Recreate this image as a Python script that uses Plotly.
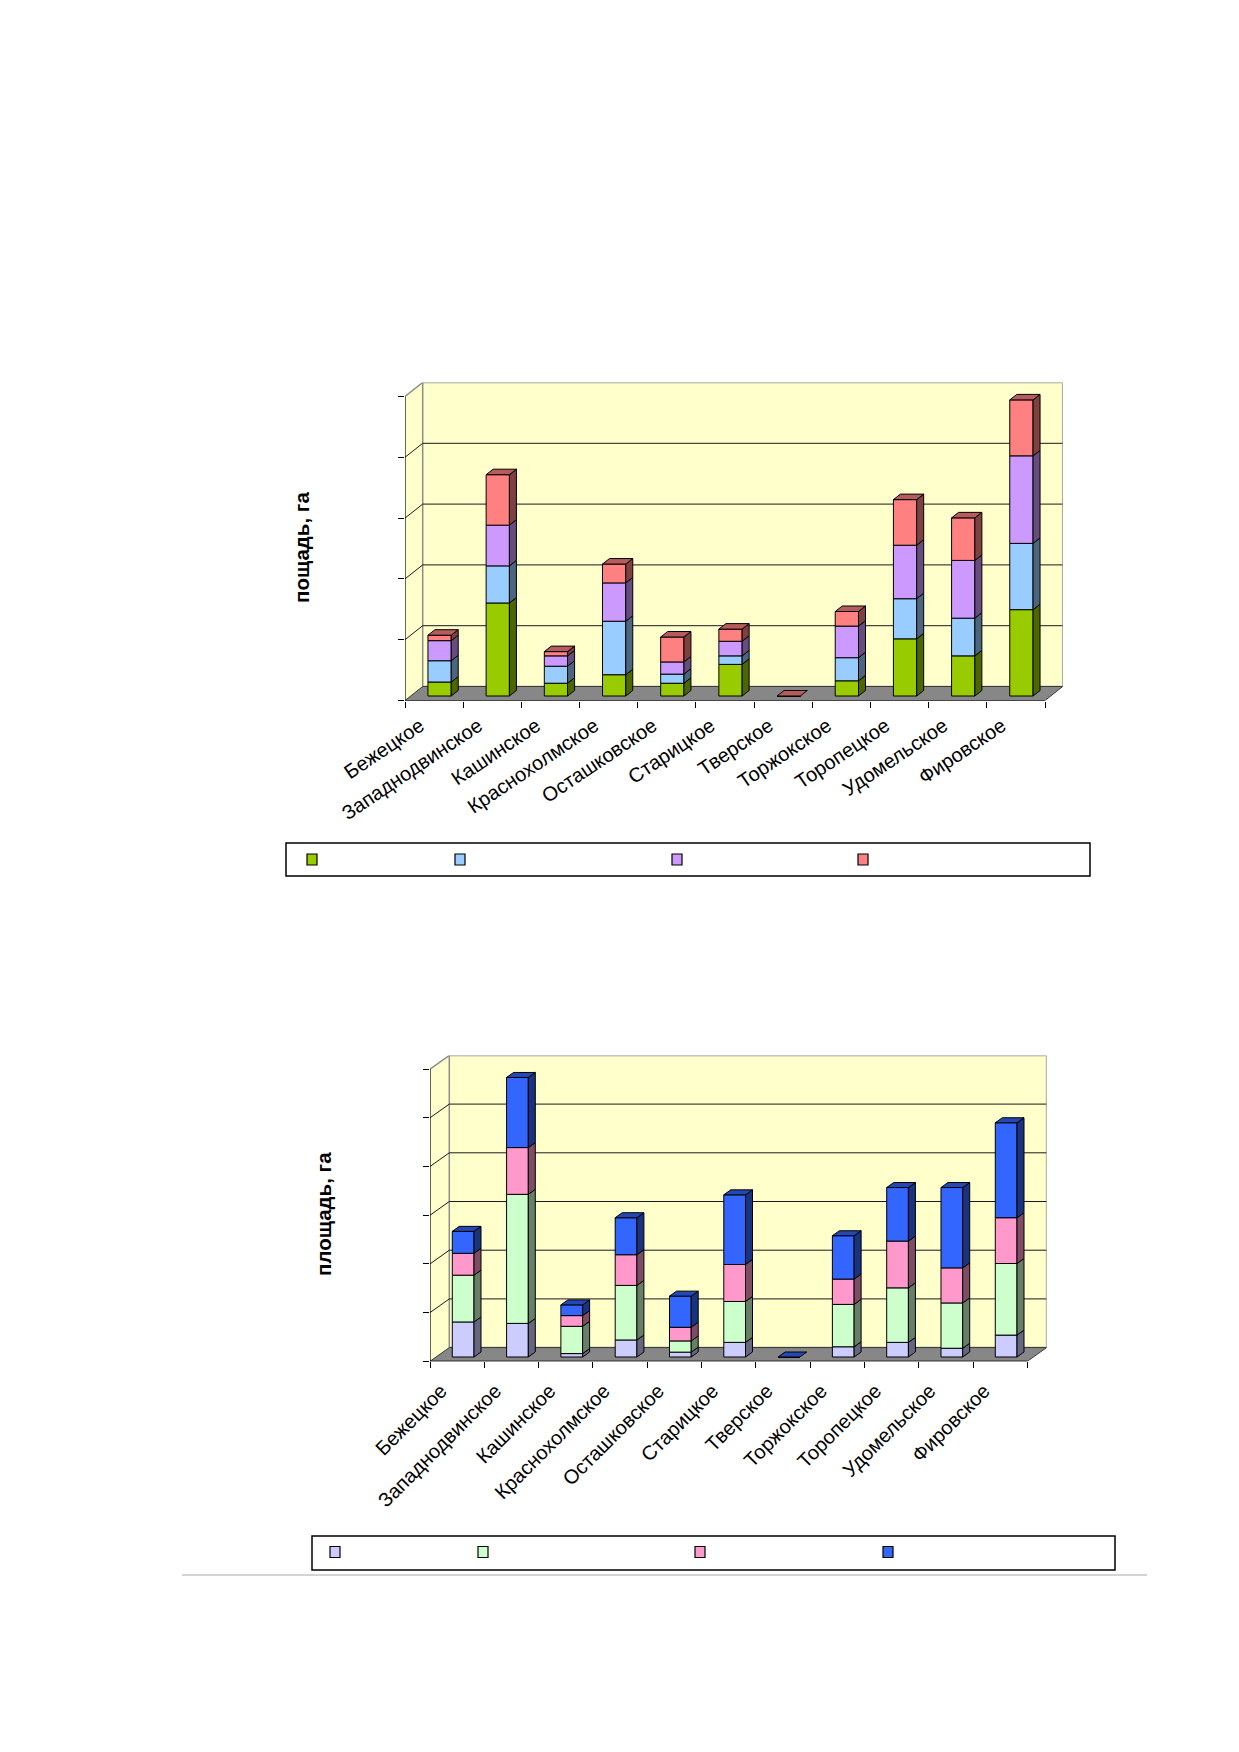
import plotly.graph_objects as go

# ---------------- data ----------------
categories = ["Бежецкое", "Западнодвинское", "Кашинское", "Краснохолмское",
              "Осташковское", "Старицкое", "Тверское", "Торжокское",
              "Торопецкое", "Удомельское", "Фировское"]

# chart 1 (пощадь, га) – stacked series, bottom to top
c1_series1 = [0.23, 1.53, 0.21, 0.35, 0.21, 0.52, 0.0, 0.25, 0.94, 0.66, 1.42]
c1_series2 = [0.35, 0.61, 0.28, 0.88, 0.15, 0.14, 0.0, 0.38, 0.66, 0.62, 1.09]
c1_series3 = [0.33, 0.67, 0.17, 0.63, 0.20, 0.24, 0.0, 0.52, 0.88, 0.95, 1.44]
c1_series4 = [0.09, 0.83, 0.07, 0.31, 0.41, 0.20, 0.0, 0.24, 0.75, 0.70, 0.92]

# chart 2 (площадь, га) – stacked series, bottom to top
c2_series1 = [0.72, 0.69, 0.07, 0.35, 0.10, 0.30, 0.0, 0.21, 0.30, 0.18, 0.45]
c2_series2 = [0.96, 2.65, 0.56, 1.12, 0.23, 0.84, 0.0, 0.87, 1.12, 0.93, 1.47]
c2_series3 = [0.45, 0.96, 0.22, 0.63, 0.28, 0.76, 0.0, 0.52, 0.96, 0.72, 0.94]
c2_series4 = [0.45, 1.44, 0.22, 0.76, 0.64, 1.43, 0.0, 0.89, 1.10, 1.65, 1.95]

c1_title = "пощадь, га"
c2_title = "площадь, га"

c1_colors = ["#99CC00", "#99CCFF", "#CC99FF", "#FF8080"]
c2_colors = ["#CCCCFF", "#CCFFCC", "#FF99CC", "#3366FF"]

# ---------------- page geometry ----------------
W, H = 1223, 1736
OFF = 8  # default body margin of the html page


def px_x(X):
    return (X - OFF) / W


def px_y(Y):
    return 1 - (Y - OFF) / H


def shade(hexcol, f):
    h = hexcol.lstrip("#")
    r, g, b = (int(h[i:i + 2], 16) for i in (0, 2, 4))
    return "rgb(%d,%d,%d)" % (r * f, g * f, b * f)


fig = go.Figure()
shapes = []
annotations = []
layout_axes = {}

FONT = "Liberation Sans, Arial"


def build_chart(idx, series, colors, geom, angle, lab_shift, lab_standoff,
                title, title_pos, legend_box, legend_marks):
    L, R, Y0, U, N, DX, DY, BOX, BOY, BDX, BDY = geom
    n = len(categories)
    cw = (R - L) / n
    dxu, dyu = DX / cw, DY / U
    boxu, boyu = BOX / cw, BOY / U
    bdxu, bdyu = BDX / cw, BDY / U
    bw = 0.4
    xs = "x" if idx == 1 else "x%d" % idx
    ys = "y" if idx == 1 else "y%d" % idx
    xa = "xaxis" if idx == 1 else "xaxis%d" % idx
    ya = "yaxis" if idx == 1 else "yaxis%d" % idx

    # walls and floor
    xl0, xr0 = -0.5, n - 0.5
    shapes.append(dict(type="path", xref=xs, yref=ys, layer="below",
                       path="M %f,0 L %f,%f L %f,%f L %f,%f Z" % (xl0, xl0, N, xl0 + dxu, N + dyu, xl0 + dxu, dyu),
                       fillcolor="#FFFFCC", line=dict(width=0)))
    shapes.append(dict(type="rect", xref=xs, yref=ys, layer="below",
                       x0=xl0 + dxu, x1=xr0 + dxu, y0=dyu, y1=N + dyu,
                       fillcolor="#FFFFCC", line=dict(color="#8C8C8C", width=1.5)))
    for k in range(1, N):
        shapes.append(dict(type="line", xref=xs, yref=ys, layer="below",
                           x0=xl0 + dxu, x1=xr0 + dxu, y0=k + dyu, y1=k + dyu,
                           line=dict(color="#1A1A1A", width=1)))
        shapes.append(dict(type="line", xref=xs, yref=ys, layer="below",
                           x0=xl0, x1=xl0 + dxu, y0=k, y1=k + dyu,
                           line=dict(color="#1A1A1A", width=1)))
    shapes.append(dict(type="line", xref=xs, yref=ys, layer="below",
                       x0=xl0, x1=xl0 + dxu, y0=N, y1=N + dyu,
                       line=dict(color="#8C8C8C", width=1.5)))
    shapes.append(dict(type="path", xref=xs, yref=ys, layer="below",
                       path="M %f,0 L %f,0 L %f,%f L %f,%f Z" % (xl0, xr0, xr0 + dxu, dyu, xl0 + dxu, dyu),
                       fillcolor="#878787", line=dict(color="#3A3A3A", width=1)))
    shapes.append(dict(type="line", xref=xs, yref=ys, layer="below",
                       x0=xl0, x1=xl0, y0=0, y1=N, line=dict(color="black", width=1.2)))
    shapes.append(dict(type="line", xref=xs, yref=ys, layer="below",
                       x0=xl0, x1=xr0, y0=0, y1=0, line=dict(color="black", width=1.2)))

    # bars: front faces
    bottoms = [0.0] * n
    for j, vals in enumerate(series):
        fig.add_trace(go.Bar(
            x=[i + boxu for i in range(n)], y=vals,
            base=[b + boyu for b in bottoms], width=bw,
            marker=dict(color=colors[j], line=dict(color="black", width=1)),
            xaxis=xs, yaxis=ys, showlegend=False, hoverinfo="skip"))
        # side faces
        sx, sy = [], []
        for i in range(n):
            if vals[i] <= 0:
                continue
            xr = i + boxu + bw / 2
            b = bottoms[i] + boyu
            t = b + vals[i]
            sx += [xr, xr + bdxu, xr + bdxu, xr, xr, None]
            sy += [b, b + bdyu, t + bdyu, t, b, None]
        fig.add_trace(go.Scatter(x=sx, y=sy, mode="lines", fill="toself",
                                 fillcolor=shade(colors[j], 0.5),
                                 line=dict(color="black", width=1),
                                 xaxis=xs, yaxis=ys, showlegend=False, hoverinfo="skip"))
        bottoms = [bottoms[i] + vals[i] for i in range(n)]
    # top faces
    tx, ty = [], []
    for i in range(n):
        xl = i + boxu - bw / 2
        xr = i + boxu + bw / 2
        t = bottoms[i] + boyu
        tx += [xl, xl + bdxu, xr + bdxu, xr, xl, None]
        ty += [t, t + bdyu, t + bdyu, t, t, None]
    fig.add_trace(go.Scatter(x=tx, y=ty, mode="lines", fill="toself",
                             fillcolor=shade(colors[-1], 0.72),
                             line=dict(color="black", width=1),
                             xaxis=xs, yaxis=ys, showlegend=False, hoverinfo="skip"))

    layout_axes[xa] = dict(
        domain=[px_x(L), px_x(R + DX)], range=[xl0, xr0 + dxu], anchor=ys,
        automargin=False,
        tickvals=list(range(n)), ticktext=categories, tickangle=angle,
        ticklabelshift=lab_shift, ticklabelstandoff=lab_standoff,
        ticks="", showgrid=False, zeroline=False, showline=False,
        tickfont=dict(family=FONT, size=20, color="black"),
        minor=dict(tickvals=[i - 0.5 for i in range(n + 1)], ticks="outside",
                   ticklen=6, tickcolor="black", tickwidth=1.2, showgrid=False),
        fixedrange=True)
    layout_axes[ya] = dict(
        domain=[px_y(Y0), px_y(Y0 - DY - N * U)], range=[0, N + dyu], anchor=xs,
        automargin=False,
        tickvals=list(range(N + 1)), ticks="outside", ticklen=6, tickcolor="black",
        tickwidth=1.2, showticklabels=False, showgrid=False, zeroline=False,
        showline=False, fixedrange=True)

    annotations.append(dict(text="<b>%s</b>" % title, xref="paper", yref="paper",
                            x=px_x(title_pos[0]), y=px_y(title_pos[1]),
                            xanchor="center", yanchor="middle", textangle=-90,
                            showarrow=False,
                            font=dict(family=FONT, size=20.5, color="black")))
    bx0, by0, bx1, by1 = legend_box
    shapes.append(dict(type="rect", xref="paper", yref="paper",
                       x0=px_x(bx0), x1=px_x(bx1), y0=px_y(by1), y1=px_y(by0),
                       fillcolor="white", line=dict(color="black", width=1.5)))
    my = legend_marks[1]
    for j, mx in enumerate(legend_marks[0]):
        shapes.append(dict(type="rect", xref="paper", yref="paper",
                           x0=px_x(mx - 5), x1=px_x(mx + 5), y0=px_y(my + 5.5), y1=px_y(my - 5.5),
                           fillcolor=colors[j], line=dict(color="black", width=1.2)))


# geometry: L, R, Y0, U, N, DX, DY, bar offset x, bar offset y, bar depth x, bar depth y (pixels)
build_chart(1, [c1_series1, c1_series2, c1_series3, c1_series4], c1_colors,
            (405, 1045, 700.5, 60.8, 5, 17.7, 14.0, 5.5, 4.5, 7.0, 5.5),
            -34, -14, 9, c1_title, (301, 548), (286, 843, 1090, 876),
            ([312, 460, 677, 863], 859.5))
build_chart(2, [c2_series1, c2_series2, c2_series3, c2_series4], c2_colors,
            (430, 1027.3, 1361.3, 48.7, 6, 19.3, 13.7, 6.0, 4.3, 7.0, 5.0),
            -45, -16, 13, c2_title, (323, 1214), (312, 1536, 1115, 1570),
            ([335, 483, 700, 888], 1552))

shapes.append(dict(type="line", xref="paper", yref="paper",
                   x0=px_x(182), x1=px_x(1147), y0=px_y(1575), y1=px_y(1575),
                   line=dict(color="#A8A8A8", width=1)))

fig.update_layout(
    width=W, height=H, margin=dict(l=0, r=0, t=0, b=0, autoexpand=False),
    paper_bgcolor="white", plot_bgcolor="rgba(0,0,0,0)",
    barmode="overlay", showlegend=False,
    shapes=shapes, annotations=annotations, **layout_axes)

fig.write_html("out.html")
